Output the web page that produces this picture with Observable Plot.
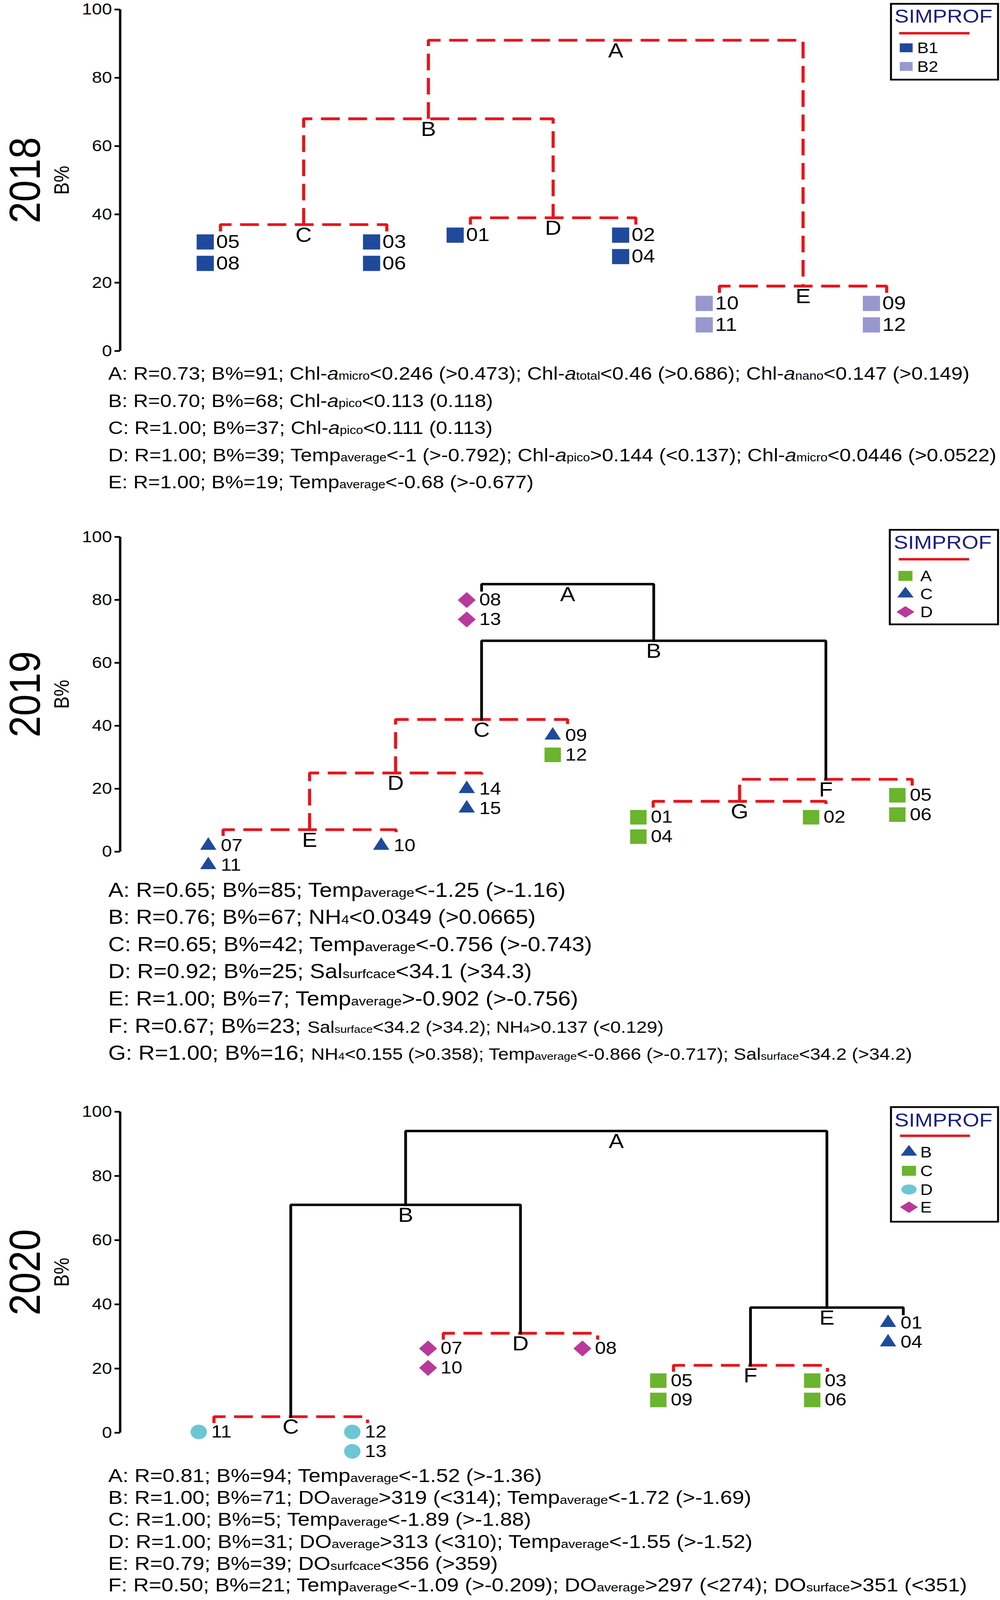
<!DOCTYPE html>
<html><head><meta charset="utf-8">
<script src="https://cdn.jsdelivr.net/npm/d3@7"></script>
<script src="https://cdn.jsdelivr.net/npm/@observablehq/plot@0.6"></script>
<style>
html,body{margin:0;padding:0;background:#fff;overflow:hidden;}
#wrap{position:relative;width:2559px;overflow:hidden;background:#fff;}
#page{position:relative;width:2559px;height:4630px;font-family:"Liberation Sans",Arial,sans-serif;background:#fff;transform-origin:0 0;}
.panel{position:absolute;left:0;}
.cap{position:absolute;left:277px;white-space:nowrap;color:#000;}
.cap .sub{font-size:0.62em;line-height:0;}
.cap .sm{font-size:0.83em;line-height:0;}
.cap i{line-height:0;}
#overlay{position:absolute;left:0;top:0;pointer-events:none;}
</style></head><body><div id="wrap"><div id="page"></div></div>
<script>
// ---------------- data ----------------
const leafPos2018 = [11.4, 30.3, 39.8, 58.6, 68.1, 87.1];
const leafSamples2018 = [["05","08"],["03","06"],["01"],["02","04"],["10","11"],["09","12"]];
const leafGroups2018 = [["B1","B1"],["B1","B1"],["B1"],["B1","B1"],["B2","B2"],["B2","B2"]];
const nodeNames2018 = ["A","B","C","D","E"];
const nodeHeights2018 = [91, 68, 37, 39, 19];
const nodeChildren2018 = [["B","E"],["C","D"],[0,1],[2,3],[4,5]];
const nodeSolid2018 = [false, false, false, false, false];
const groups2018 = ["B1","B2"];
const groupSymbols2018 = ["square","square"];
const groupColors2018 = ["#1f4a9c","#9898cf"];
const captions2018 = [
  "A: R=0.73; B%=91; Chl-*a*_{micro}<0.246 (>0.473); Chl-*a*_{total}<0.46 (>0.686); Chl-*a*_{nano}<0.147 (>0.149)",
  "B: R=0.70; B%=68; Chl-*a*_{pico}<0.113 (0.118)",
  "C: R=1.00; B%=37; Chl-*a*_{pico}<0.111 (0.113)",
  "D: R=1.00; B%=39; Temp_{average}<-1 (>-0.792); Chl-*a*_{pico}>0.144 (<0.137); Chl-*a*_{micro}<0.0446 (>0.0522)",
  "E: R=1.00; B%=19; Temp_{average}<-0.68 (>-0.677)"
];

const leafPos2019 = [11.7, 31.35, 41.07, 50.84, 41.07, 60.57, 80.2, 90.0];
const leafSamples2019 = [["07","11"],["10"],["14","15"],["09","12"],["08","13"],["01","04"],["02"],["05","06"]];
const leafGroups2019 = [["C","C"],["C"],["C","C"],["C","A"],["D","D"],["A","A"],["A"],["A","A"]];
const nodeNames2019 = ["A","B","C","D","E","F","G"];
const nodeHeights2019 = [85, 67, 42, 25, 7, 23, 16];
const nodeChildren2019 = [[4,"B"],["C","F"],["D",3],["E",2],[0,1],["G",7],[5,6]];
const nodeSolid2019 = [true, true, false, false, false, false, false];
const groups2019 = ["A","C","D"];
const groupSymbols2019 = ["square","triangle","diamond2"];
const groupColors2019 = ["#6ab42e","#1f4a9c","#b8399a"];
const captions2019 = [
  "A: R=0.65; B%=85; Temp_{average}<-1.25 (>-1.16)",
  "B: R=0.76; B%=67; NH_{4}<0.0349 (>0.0665)",
  "C: R=0.65; B%=42; Temp_{average}<-0.756 (>-0.743)",
  "D: R=0.92; B%=25; Sal_{surfcace}<34.1 (>34.3)",
  "E: R=1.00; B%=7; Temp_{average}>-0.902 (>-0.756)",
  "F: R=0.67; B%=23; «Sal_{surface}<34.2 (>34.2); NH_{4}>0.137 (<0.129)»",
  "G: R=1.00; B%=16; «NH_{4}<0.155 (>0.358); Temp_{average}<-0.866 (>-0.717); Sal_{surface}<34.2 (>34.2)»"
];

const leafPos2020 = [10.66, 28.11, 36.72, 54.26, 62.88, 80.37, 88.99];
const leafSamples2020 = [["11"],["12","13"],["07","10"],["08"],["05","09"],["03","06"],["01","04"]];
const leafGroups2020 = [["D"],["D","D"],["E","E"],["E"],["C","C"],["C","C"],["B","B"]];
const nodeNames2020 = ["A","B","C","D","E","F"];
const nodeHeights2020 = [94, 71, 5, 31, 39, 21];
const nodeChildren2020 = [["B","E"],["C","D"],[0,1],[2,3],["F",6],[4,5]];
const nodeSolid2020 = [true, true, false, false, true, false];
const groups2020 = ["B","C","D","E"];
const groupSymbols2020 = ["triangle","square","circle","diamond2"];
const groupColors2020 = ["#1f4a9c","#6ab42e","#6cc6d3","#b8399a"];
const captions2020 = [
  "A: R=0.81; B%=94; Temp_{average}<-1.52 (>-1.36)",
  "B: R=1.00; B%=71; DO_{average}>319 (<314); Temp_{average}<-1.72 (>-1.69)",
  "C: R=1.00; B%=5; Temp_{average}<-1.89 (>-1.88)",
  "D: R=1.00; B%=31; DO_{average}>313 (<310); Temp_{average}<-1.55 (>-1.52)",
  "E: R=0.79; B%=39; DO_{surfcace}<356 (>359)",
  "F: R=0.50; B%=21; Temp_{average}<-1.09 (>-0.209); DO_{average}>297 (<274); DO_{surface}>351 (<351)"
];

const yTicks = [0, 20, 40, 60, 80, 100];
const legendTitle = "SIMPROF";

// ---------------- layout / style ----------------
const FONT = "Liberation Sans, Arial, Helvetica, sans-serif";
const RED = "#e8141c";
const SHIFT = 6;
const panels = [
  {year:"2018", leafPos:leafPos2018, leafSamples:leafSamples2018, leafGroups:leafGroups2018, nodeNames:nodeNames2018, nodeHeights:nodeHeights2018, nodeChildren:nodeChildren2018, nodeSolid:nodeSolid2018, groups:groups2018, groupSymbols:groupSymbols2018, groupColors:groupColors2018, captions:captions2018,
   top:0, height:1045, mt:21, mb:38, capTop:1033, capLH:78.5, capFont:52.5, leafFirst:50, leafStep:62, leafFont:54, markDx:-39, labelDx:-11,
   symR:{square:24.8},
   legend:{x:2280,y:5,w:274,h:219,titleY:40,titleX:2289,lineY:90,lineX1:2301,lineX2:2481,entryY:[132,186],markX:2319,labelX:2347,
     sym:{square:{size:1089,sy:0.78}}}},
  {year:"2019", leafPos:leafPos2019, leafSamples:leafSamples2019, leafGroups:leafGroups2019, nodeNames:nodeNames2019, nodeHeights:nodeHeights2019, nodeChildren:nodeChildren2019, nodeSolid:nodeSolid2019, groups:groups2019, groupSymbols:groupSymbols2019, groupColors:groupColors2019, captions:captions2019,
   top:1500, height:1010, mt:44, mb:57, capTop:2525, capLH:78.3, capFont:58, leafFirst:46, leafStep:56, leafFont:50, markDx:-38, labelDx:-6,
   symR:{square:23.7, triangle:15.5, diamond2:20.7, circle:21},
   legend:{x:2277,y:1524,w:277,h:273,titleY:1560,titleX:2287,lineY:1609,lineX1:2300,lineX2:2480,entryY:[1657,1709,1761],markX:2317,labelX:2355,
     sym:{square:{size:1296,sy:0.8}, triangle:{size:763,sy:0.85}, diamond2:{size:1349,sy:0.72}, circle:{size:1194,sy:0.75}}}},
  {year:"2020", leafPos:leafPos2020, leafSamples:leafSamples2020, leafGroups:leafGroups2020, nodeNames:nodeNames2020, nodeHeights:nodeHeights2020, nodeChildren:nodeChildren2020, nodeSolid:nodeSolid2020, groups:groups2020, groupSymbols:groupSymbols2020, groupColors:groupColors2020, captions:captions2020,
   top:3160, height:1060, mt:44, mb:89, capTop:4224, capLH:63.2, capFont:55, leafFirst:44, leafStep:56, leafFont:50, markDx:-39, labelDx:-7,
   symR:{square:23.7, triangle:15.5, diamond2:20.7, circle:21},
   legend:{x:2280,y:3191,w:274,h:331,titleY:3228,titleX:2289,lineY:3274,lineX1:2303,lineX2:2482,entryY:[3321,3375,3429,3480],markX:2326,labelX:2355,
     sym:{square:{size:1296,sy:0.8}, triangle:{size:763,sy:0.85}, diamond2:{size:1349,sy:0.72}, circle:{size:1194,sy:0.75}}}}
];

const STUB = 2; // B% units of the short drop at a leaf

function buildTree(p) {
  const idx = new Map(p.nodeNames.map((n, i) => [n, i]));
  const memo = new Map();
  const xOf = c => typeof c === "number" ? p.leafPos[c] : nodeX(c);
  function nodeX(n) {
    if (!memo.has(n)) { const [a, b] = p.nodeChildren[idx.get(n)]; memo.set(n, (xOf(a) + xOf(b)) / 2); }
    return memo.get(n);
  }
  const paths = [], leafParent = [];
  p.nodeNames.forEach((n, i) => {
    const h = p.nodeHeights[i];
    const [a, b] = p.nodeChildren[i];
    const yOf = c => typeof c === "number" ? h - STUB : p.nodeHeights[idx.get(c)];
    [a, b].forEach(c => { if (typeof c === "number") leafParent[c] = h; });
    const solid = p.nodeSolid[i];
    paths.push({node:n, solid, x:xOf(a), y:yOf(a)}, {node:n, solid, x:xOf(a), y:h},
               {node:n, solid, x:xOf(b), y:h}, {node:n, solid, x:xOf(b), y:yOf(b)});
  });
  const labels = p.nodeNames.map((n, i) => ({name:n, x:nodeX(n), y:p.nodeHeights[i]}));
  const samples = p.leafSamples.flatMap((s, k) => s.map((id, j) => ({id, group:p.leafGroups[k][j], x:p.leafPos[k], y:leafParent[k], row:j})));
  return {paths, labels, samples};
}

function md(s) {
  return s.replace(/&/g, "&amp;").replace(/</g, "&lt;").replace(/>/g, "&gt;")
    .replace(/\*([^*]+)\*/g, "<i>$1</i>")
    .replace(/_\{([^}]*)\}/g, '<span class="sub">$1</span>')
    .replace(/«/g, '<span class="sm">').replace(/»/g, "</span>");
}

const page = document.getElementById("page");

panels.forEach(p => {
  const {paths, labels, samples} = buildTree(p);
  const symbolOf = g => p.groupSymbols[p.groups.indexOf(g)];
  const leafMarks = [];
  [0, 1].forEach(row => {
    const dy = p.leafFirst + row * p.leafStep;
    [...new Set(p.groupSymbols)].forEach(sym => {
      leafMarks.push(Plot.dot(samples.filter(d => d.row === row && symbolOf(d.group) === sym), {
        x: "x", y: "y", fill: "group", symbol: sym, r: p.symR[sym], dx: p.markDx, dy
      }));
    });
    leafMarks.push(Plot.text(samples.filter(d => d.row === row), {
      x: "x", y: "y", text: "id", textAnchor: "start", lineAnchor: "middle",
      dx: p.labelDx, dy, fontSize: p.leafFont, fontFamily: FONT, fill: "#000"
    }));
  });

  const chart = Plot.plot({
    width: 2559, height: p.height,
    marginLeft: 307, marginRight: 0, marginTop: p.mt, marginBottom: p.mb,
    x: {domain: [0, 100], axis: null},
    y: {domain: [0, 100], axis: null},
    color: {domain: p.groups, range: p.groupColors},
    style: {fontFamily: FONT, background: "transparent", overflow: "visible", color: "#000"},
    marks: [
      Plot.ruleX([0], {y1: 0, y2: 100, strokeWidth: 6, stroke: "#000"}),
      Plot.axisY({ticks: yTicks, tickFormat: d => String(d), tickSize: 14, tickPadding: 7, fontSize: 46, strokeWidth: 5, label: null, fontFamily: FONT}),
      Plot.line(paths.filter(d => !d.solid), {x: "x", y: "y", z: "node", stroke: RED, strokeWidth: 8, strokeDasharray: "48,22", strokeLinejoin: "miter", strokeLinecap: "butt"}),
      Plot.line(paths.filter(d => d.solid), {x: "x", y: "y", z: "node", stroke: "#000", strokeWidth: 7, strokeLinejoin: "miter", strokeLinecap: "square"}),
      Plot.text(labels, {x: "x", y: "y", text: "name", lineAnchor: "top", dy: 8, fontSize: 58, fontFamily: FONT, fill: "#000"}),
      ...leafMarks,
      Plot.text([p.year], {frameAnchor: "left", textAnchor: "middle", lineAnchor: "middle", rotate: -90, dx: -241, fontSize: 112, fontFamily: FONT, fill: "#000"}),
      Plot.text(["B%"], {frameAnchor: "left", textAnchor: "middle", lineAnchor: "middle", rotate: -90, dx: -149, fontSize: 54, fontFamily: FONT, fill: "#000"})
    ]
  });
  chart.classList.add("panel");
  chart.style.top = (p.top + SHIFT) + "px";
  page.appendChild(chart);

  p.captions.forEach((line, i) => {
    const cap = document.createElement("div");
    cap.className = "cap";
    cap.style.top = (p.capTop + SHIFT + i * p.capLH) + "px";
    cap.style.height = p.capLH + "px";
    cap.style.fontSize = p.capFont + "px";
    cap.style.lineHeight = p.capLH + "px";
    cap.innerHTML = md(line);
    page.appendChild(cap);
  });
});

// legends (overlay)
const overlay = d3.select(page).append("svg").attr("id", "overlay").attr("width", 2559).attr("height", 4630)
  .style("top", SHIFT + "px");
const d3sym = {square: d3.symbolSquare, triangle: d3.symbolTriangle, diamond2: d3.symbolDiamond2, circle: d3.symbolCircle};
panels.forEach(p => {
  const L = p.legend;
  const g = overlay.append("g");
  g.append("rect").attr("x", L.x).attr("y", L.y).attr("width", L.w).attr("height", L.h)
    .attr("fill", "#fff").attr("stroke", "#000").attr("stroke-width", 5);
  g.append("text").attr("x", L.titleX).attr("y", L.titleY).attr("dy", "0.35em")
    .attr("font-family", FONT).attr("font-size", 55).attr("fill", "#1c1c80").text(legendTitle);
  g.append("line").attr("x1", L.lineX1).attr("x2", L.lineX2).attr("y1", L.lineY).attr("y2", L.lineY)
    .attr("stroke", RED).attr("stroke-width", 7);
  p.groups.forEach((grp, i) => {
    const sym = p.groupSymbols[i], s = L.sym[sym];
    g.append("path").attr("d", d3.symbol(d3sym[sym], s.size)())
      .attr("transform", `translate(${L.markX},${L.entryY[i]}) scale(1,${s.sy})`)
      .attr("fill", p.groupColors[i]);
    g.append("text").attr("x", L.labelX).attr("y", L.entryY[i]).attr("dy", "0.35em")
      .attr("font-family", FONT).attr("font-size", 44).attr("fill", "#000").text(grp);
  });
});

// the capture window is shorter than the figure: fit the whole figure into it
const VH = window.innerHeight || 4609;
const S = VH >= 4609 ? 1 : 0.8865 * VH / 4096;
page.style.transform = `scale(1, ${S})`;
document.getElementById("wrap").style.height = Math.min(VH, Math.ceil(4630 * S)) + "px";
</script>
</body></html>
